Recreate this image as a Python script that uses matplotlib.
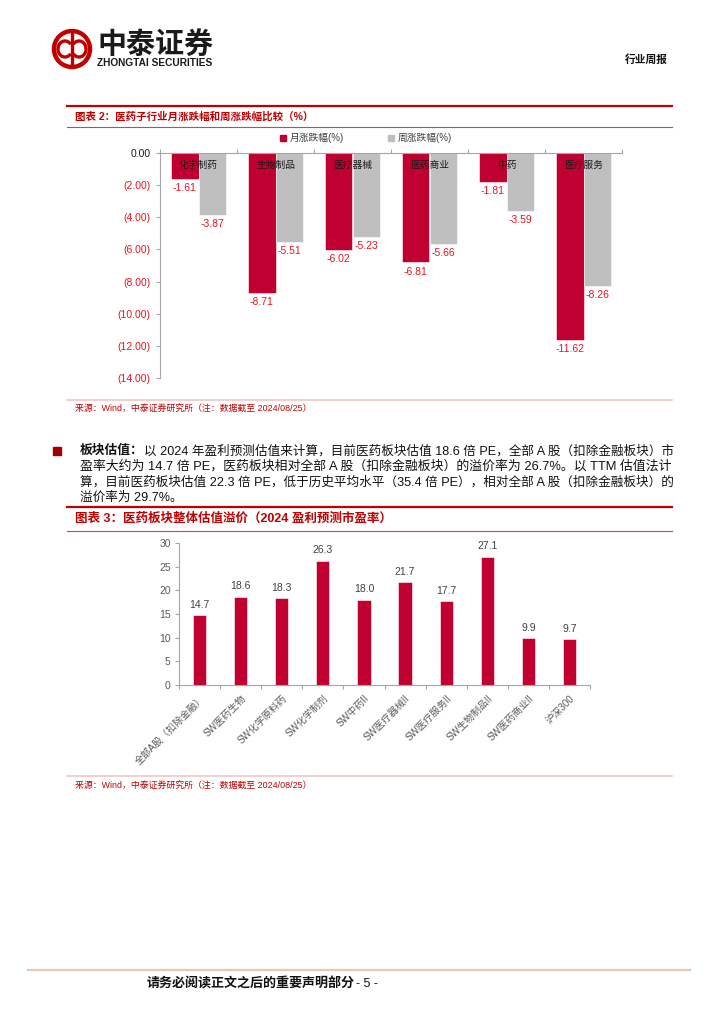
import matplotlib
matplotlib.use("Agg")
import matplotlib.pyplot as plt
from matplotlib.patches import Rectangle, Circle, Arc, Patch
import numpy as np

plt.rcParams['font.family'] = ['Liberation Sans', 'Noto Sans CJK SC']

# chart 2: monthly / weekly change of pharma sub-industries (%)
sub_industries = ["化学制药", "生物制品", "医疗器械", "医药商业", "中药", "医疗服务"]
monthly_change = [-1.61, -8.71, -6.02, -6.81, -1.81, -11.62]
weekly_change = [-3.87, -5.51, -5.23, -5.66, -3.59, -8.26]
change_ticks = [0, -2, -4, -6, -8, -10, -12, -14]
change_legend = ["月涨跌幅(%)", "周涨跌幅(%)"]

# chart 3: 2024 forecast PE
pe_labels = ["全部A股（扣除金融）", "SW医药生物", "SW化学原料药", "SW化学制剂", "SW中药II",
             "SW医疗器械II", "SW医疗服务II", "SW生物制品II", "SW医药商业II", "沪深300"]
pe_values = [14.7, 18.6, 18.3, 26.3, 18.0, 21.7, 17.7, 27.1, 9.9, 9.7]
pe_ticks = [0, 5, 10, 15, 20, 25, 30]

paragraph = [
    "以 2024 年盈利预测估值来计算，目前医药板块估值 18.6 倍 PE，全部 A 股（扣除金融板块）市",
    "盈率大约为 14.7 倍 PE，医药板块相对全部 A 股（扣除金融板块）的溢价率为 26.7%。以 TTM 估值法计",
    "算，目前医药板块估值 22.3 倍 PE，低于历史平均水平（35.4 倍 PE），相对全部 A 股（扣除金融板块）的",
    "溢价率为 29.7%。",
]
source_note = "来源：Wind，中泰证券研究所（注：数据截至 2024/08/25）"

RED = "#C00030"
DARK_RED = "#C00000"
LABEL_RED = "#E8141E"
GRAY = "#BFBFBF"
AXIS_GRAY = "#A6A6A6"
TEXT_GRAY = "#595959"

W, H = 724, 1024
fig = plt.figure(figsize=(W / 100, H / 100), dpi=100)
renderer = fig.canvas.get_renderer()

# page layer in pixel coordinates
page = fig.add_axes([0, 0, 1, 1])
page.set_xlim(0, W)
page.set_ylim(H, 0)
page.axis("off")


def fit_text(x, y, s, width, size=9, **kw):
    """place text and scale its font so it spans `width` pixels"""
    t = page.text(x, y, s, fontsize=size, va="center", **kw)
    w = t.get_window_extent(renderer).width
    t.set_fontsize(size * width / w)
    return t


def box(left, top, right, bottom):
    return [left / W, 1 - bottom / H, (right - left) / W, (bottom - top) / H]


# header
page.add_patch(Circle((72, 49), 18, fill=False, lw=3.2, color=DARK_RED))
page.add_patch(Arc((65, 49), 14, 16, theta1=40, theta2=320, lw=2.4, color=DARK_RED))
page.add_patch(Arc((79, 49), 14, 16, theta1=220, theta2=140, lw=2.4, color=DARK_RED))
page.plot([72, 72], [33, 65], color=DARK_RED, lw=2.4)
fit_text(97, 45, "中泰证券", 116, size=20, fontweight="bold", color="#1A1A1A")
fit_text(97, 63, "ZHONGTAI SECURITIES", 116, size=6, fontweight="bold", color="#1A1A1A")
fit_text(625, 60, "行业周报", 43, size=8, color="#111111", fontweight="bold")

# chart 2 frame
page.plot([67, 672], [106, 106], color=DARK_RED, lw=1.6)
fit_text(75, 117, "图表 2：医药子行业月涨跌幅和周涨跌幅比较（%）", 238, size=9,
         color=DARK_RED, fontweight="bold")
page.plot([67, 672], [127, 127], color="#D04545", lw=0.8)
page.plot([67, 672], [400, 400], color="#F2C6C6", lw=1.2)
fit_text(75, 409, source_note, 236, size=6.5, color=DARK_RED)

ax2 = fig.add_axes(box(160, 153, 622, 378))
ax2.set_facecolor("none")
xc = np.arange(len(sub_industries)) + 0.5
ax2.bar(xc - 0.18, monthly_change, 0.36, color=RED, edgecolor="white", linewidth=0.4)
ax2.bar(xc + 0.18, weekly_change, 0.36, color=GRAY, edgecolor="white", linewidth=0.4)
for i, name in enumerate(sub_industries):
    ax2.text(xc[i], -0.75, name, ha="center", va="center", fontsize=7, color="#1A1A1A")
    for off, v in ((-0.18, monthly_change[i]), (0.18, weekly_change[i])):
        ax2.annotate(f"{v:.2f}", (xc[i] + off, v), xytext=(0, -3),
                     textcoords="offset points", ha="center", va="top",
                     fontsize=7.5, color=LABEL_RED)
ax2.set_xlim(0, len(sub_industries))
ax2.set_ylim(-14, 0)
ax2.set_xticks(np.arange(len(sub_industries) + 1))
ax2.set_xticklabels([])
ax2.xaxis.set_ticks_position("top")
ax2.set_yticks(change_ticks)
ax2.set_yticklabels(["0.00" if v == 0 else f"({abs(v):.2f})" for v in change_ticks])
for lbl, v in zip(ax2.get_yticklabels(), change_ticks):
    lbl.set_color("#1A1A1A" if v == 0 else LABEL_RED)
ax2.tick_params(axis="y", labelsize=7.5, length=3, color=AXIS_GRAY, pad=4)
ax2.tick_params(axis="x", length=3, color=AXIS_GRAY)
for s in ("right", "bottom"):
    ax2.spines[s].set_visible(False)
for s in ("left", "top"):
    ax2.spines[s].set_color(AXIS_GRAY)
    ax2.spines[s].set_linewidth(0.8)
handles = [Patch(color=RED), Patch(color=GRAY)]
fig.legend(handles, change_legend, loc="center", bbox_to_anchor=(366 / W, 1 - 138 / H),
           ncol=2, frameon=False, fontsize=7, handlelength=0.6, handleheight=0.6,
           handletextpad=0.4, columnspacing=4.5, labelcolor="#404040")

# paragraph
page.add_patch(Rectangle((53, 447), 8, 8, color="#A00000"))
bold = page.text(80, 451, "板块估值：", fontsize=9.2, va="center", fontweight="bold",
                 color="#111111")
bw = bold.get_window_extent(renderer).width
line_y = [451, 466.5, 482, 497.5]
fit_text(80 + bw, line_y[0], paragraph[0], 672 - 80 - bw, size=9, color="#111111")
fit_text(80, line_y[1], paragraph[1], 592, size=9, color="#111111")
fit_text(80, line_y[2], paragraph[2], 592, size=9, color="#111111")
page.text(80, line_y[3], paragraph[3], fontsize=9.1, va="center", color="#111111")

# chart 3 frame
page.plot([67, 672], [507, 507], color=DARK_RED, lw=1.6)
fit_text(75, 519, "图表 3：医药板块整体估值溢价（2024 盈利预测市盈率）", 318, size=9,
         color=DARK_RED, fontweight="bold")
page.plot([67, 672], [531, 531], color="#D04545", lw=0.8)
page.plot([67, 672], [776, 776], color="#F2C6C6", lw=1.2)
fit_text(75, 786, source_note, 236, size=6.5, color=DARK_RED)

ax3 = fig.add_axes(box(179, 543, 590, 685))
ax3.set_facecolor("none")
xc3 = np.arange(len(pe_values)) + 0.5
ax3.bar(xc3, pe_values, 0.32, color=RED, edgecolor="white", linewidth=0.4)
for xi, v in zip(xc3, pe_values):
    ax3.annotate(f"{v:.1f}", (xi, v), xytext=(0, 4), textcoords="offset points",
                 ha="center", va="bottom", fontsize=7.5, color="#404040")
ax3.set_xlim(0, len(pe_values))
ax3.set_ylim(0, 30)
ax3.set_yticks(pe_ticks)
ax3.set_xticks(np.arange(len(pe_values) + 1))
ax3.set_xticklabels([])
ax3.set_xticks(xc3, minor=True)
ax3.set_xticklabels(pe_labels, minor=True, rotation=45, ha="right", va="top",
                    rotation_mode="anchor", fontsize=7, color=TEXT_GRAY)
ax3.tick_params(axis="x", which="minor", length=0, pad=6)
ax3.tick_params(axis="x", which="major", length=3, color=AXIS_GRAY)
ax3.tick_params(axis="y", labelsize=7.5, labelcolor=TEXT_GRAY, length=3,
                color=AXIS_GRAY, pad=3)
for s in ("right", "top"):
    ax3.spines[s].set_visible(False)
for s in ("left", "bottom"):
    ax3.spines[s].set_color(AXIS_GRAY)
    ax3.spines[s].set_linewidth(0.8)

# footer
page.plot([28, 690], [970, 970], color="#E8C8B4", lw=1.6)
fit_text(147, 984, "请务必阅读正文之后的重要声明部分", 208, size=9.3,
         fontweight="bold", color="#111111")
page.text(356, 984, "- 5 -", fontsize=9, va="center", color="#111111")

fig.savefig("out.png", dpi=100)
